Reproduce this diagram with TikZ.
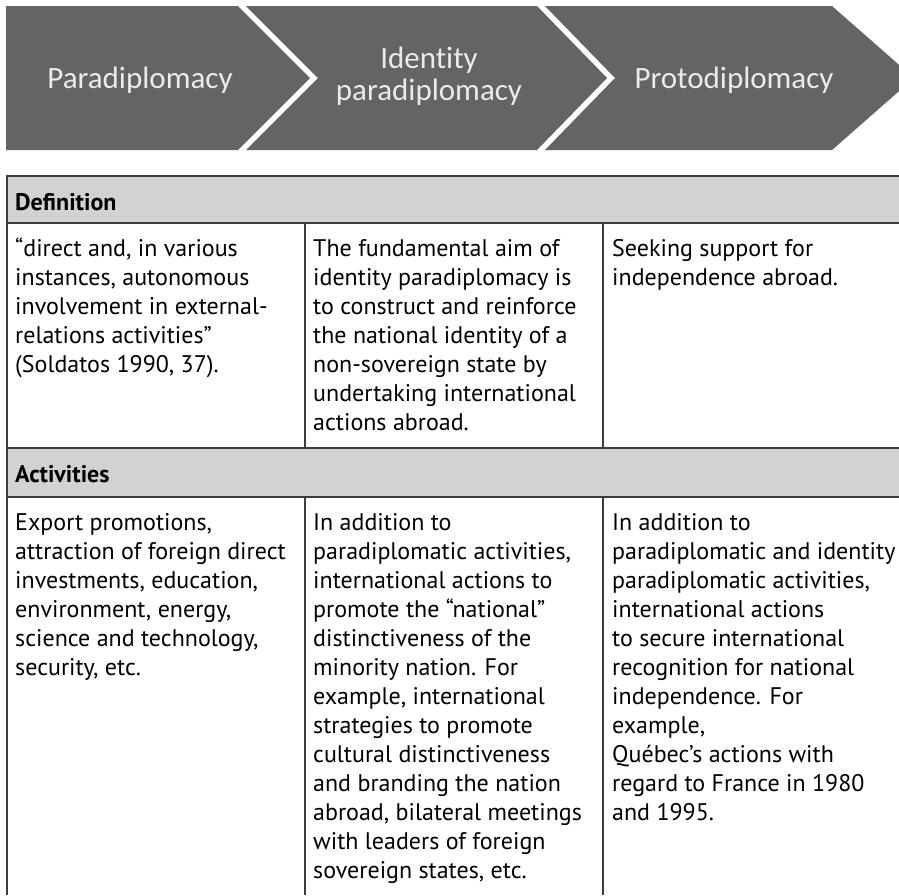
\documentclass[tikz,border=0pt]{standalone}
\usepackage{fontspec}
\setmainfont{PT Sans}
\newfontfamily\chevfont[Ligatures=NoCommon]{Carlito}
\usepackage{tikz}
\usetikzlibrary{positioning}
\definecolor{chevgray}{HTML}{646464}
\definecolor{chevtext}{HTML}{EBEBEB}
\definecolor{headgray}{HTML}{D1D2D4}
\definecolor{rulegray}{HTML}{3C3C3C}
\tikzstyle{stage}=[fill=chevgray]
\tikzstyle{stagetext}=[anchor=base,text=chevtext,font=\chevfont\fontsize{31}{32}\selectfont,align=center,inner sep=0pt]
\tikzstyle{head}=[anchor=base west,inner sep=0pt,font=\bfseries\fontsize{24}{29}\selectfont]
\tikzstyle{cell}=[anchor=base west,inner sep=0pt,align=left,font=\fontsize{24}{29}\selectfont]
\tikzstyle{rule}=[draw=rulegray,line width=2pt]

\begin{document}
\begin{tikzpicture}[x=1pt,y=-1pt]
\useasboundingbox (0,0) rectangle (899,895);
\clip (0,0) rectangle (899,895);
% the three stages
\fill[stage] (6,6) -- (238,6) -- (310,78) -- (238,150) -- (6,150) -- cycle;
\fill[stage] (246,6) -- (537,6) -- (607,78) -- (537,150) -- (246,150) -- (318,78) -- cycle;
\fill[stage] (545,6) -- (832,6) -- (914,78) -- (832,150) -- (545,150) -- (615,78) -- cycle;
\node[stagetext] (para) at (140,88) {Paradiplomacy};
\node[stagetext] (ident) at (429,100) {Identity\\paradiplomacy};
\node[stagetext] (proto) at (734,88) {Protodiplomacy};

% table (base anchor = last line of a cell)
\fill[headgray] (7,176) rectangle (899,223);
\fill[headgray] (7,448) rectangle (899,497);
\draw[rule] (7,895) -- (7,176) -- (899,176);
\draw[rule] (7,223) -- (899,223);
\draw[rule] (7,448) -- (899,448);
\draw[rule] (7,497) -- (899,497);
\draw[rule,line width=1.5pt] (305,223) -- (305,448) (603,223) -- (603,448);
\draw[rule,line width=1.5pt] (305,497) -- (305,895) (603,497) -- (603,895);

\node[head] (defhead) at (15,210) {Definition};
\node[cell] (def1) at (15,372) {“direct and, in various\\instances, autonomous\\involvement in external-\\relations activities”\\(Soldatos 1990, 37).};
\node[cell] (def2) at (313,430) {The fundamental aim of\\identity paradiplomacy is\\to construct and reinforce\\the national identity of a\\non-sovereign state by\\undertaking international\\actions abroad.};
\node[cell] (def3) at (612,285) {Seeking support for\\independence abroad.};

\node[head] (acthead) at (15,482) {Activities};
\node[cell] (act1) at (15,675) {Export promotions,\\attraction of foreign direct\\investments, education,\\environment, energy,\\science and technology,\\security, etc.};
\node[cell] (act2) at (313,878) {In addition to\\paradiplomatic activities,\\international actions to\\promote the “national”\\distinctiveness of the\\minority nation. For\\example, international\\strategies to promote\\cultural distinctiveness\\and branding the nation\\abroad, bilateral meetings\\with leaders of foreign\\sovereign states, etc.};
\node[cell] (act3) at (612,820) {In addition to\\paradiplomatic and identity\\paradiplomatic activities,\\international actions\\to secure international\\recognition for national\\independence. For\\example,\\Québec’s actions with\\regard to France in 1980\\and 1995.};
\end{tikzpicture}
\end{document}
